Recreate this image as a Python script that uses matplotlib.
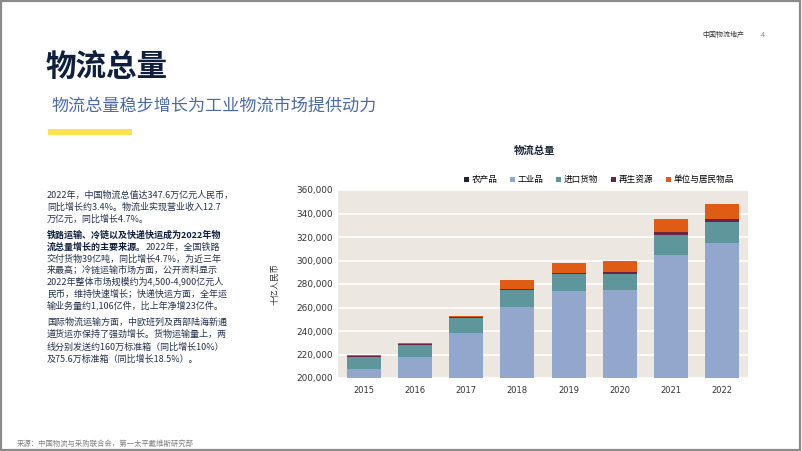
import matplotlib.pyplot as plt
from matplotlib.patches import Rectangle

plt.rcParams["font.family"] = ["Noto Sans CJK SC", "DejaVu Sans"]

# ---------------------------------------------------------------------
# Dados (十亿人民币)
# ---------------------------------------------------------------------
anos = ["2015", "2016", "2017", "2018", "2019", "2020", "2021", "2022"]
agricola = [3500, 3600, 3700, 3900, 4200, 4600, 5000, 5300]
industrial = [204000, 214000, 234500, 256800, 269600, 269900, 299600, 309200]
importacao = [10400, 10500, 12500, 14100, 14300, 14200, 17400, 18100]
reciclagem = [900, 1000, 1100, 1300, 1400, 1600, 2500, 3100]
residentes = [500, 600, 1000, 7000, 8400, 9700, 10800, 12000]

series = [
    ("农产品", agricola, "#1f2433"),
    ("工业品", industrial, "#92a7cb"),
    ("进口货物", importacao, "#5f969b"),
    ("再生资源", reciclagem, "#6a2445"),
    ("单位与居民物品", residentes, "#e05c14"),
]

y_ticks = [200000, 220000, 240000, 260000, 280000, 300000, 320000, 340000, 360000]

W, H = 802, 451


def fy(px):
    return 1 - px / H


def fx(px):
    return px / W


fig = plt.figure(figsize=(W / 100, H / 100), dpi=100)
fig.patch.set_facecolor("white")

# moldura cinzenta
fig.add_artist(Rectangle((0.001, 0.002), 0.997, 0.996, transform=fig.transFigure,
                         fill=False, edgecolor="#8a8a8a", linewidth=1.6))

# cabeçalho
fig.text(fx(702), fy(35), "中国物流地产", fontsize=5, color="#333333", va="center")
fig.text(fx(761), fy(35), "4", fontsize=5, color="#888888", va="center")
fig.text(fx(46), fy(67), "物流总量", fontsize=22, fontweight="bold",
         color="#0f1f3d", va="center")
fig.text(fx(51), fy(106), "物流总量稳步增长为工业物流市场提供动力", fontsize=12.3,
         color="#4d6aa3", va="center")
fig.add_artist(Rectangle((fx(48), fy(135)), fx(84), 6 / H, transform=fig.transFigure,
                         facecolor="#ffe04f", edgecolor="none"))

# texto lateral
cor_texto = "#26324a"
fs = 6.5
x0 = fx(47)
p1 = [
    "2022年，中国物流总值达347.6万亿元人民币，",
    "同比增长约3.4%。物流业实现营业收入12.7",
    "万亿元，同比增长4.7%。",
]
for i, linha in enumerate(p1):
    fig.text(x0, fy(198 + i * 11.7), linha, fontsize=fs, color=cor_texto, va="baseline")

fig.text(x0, fy(238), "铁路运输、冷链以及快递快运成为2022年物", fontsize=fs,
         fontweight="bold", color="#0f1f3d", va="baseline")
t_bold = fig.text(x0, fy(249.7), "流总量增长的主要来源。", fontsize=fs,
                  fontweight="bold", color="#0f1f3d", va="baseline")
p2 = [
    "交付货物39亿吨，同比增长4.7%，为近三年",
    "来最高；冷链运输市场方面，公开资料显示",
    "2022年整体市场规模约为4,500-4,900亿元人",
    "民币，维持快速增长；快递快运方面，全年运",
    "输业务量约1,106亿件，比上年净增23亿件。",
]
for i, linha in enumerate(p2):
    fig.text(x0, fy(261.4 + i * 11.7), linha, fontsize=fs, color=cor_texto, va="baseline")

p3 = [
    "国际物流运输方面，中欧班列及西部陆海新通",
    "道货运亦保持了强劲增长。货物运输量上，两",
    "线分别发送约160万标准箱（同比增长10%）",
    "及75.6万标准箱（同比增长18.5%）。",
]
for i, linha in enumerate(p3):
    fig.text(x0, fy(325 + i * 12.2), linha, fontsize=fs, color=cor_texto, va="baseline")

fig.text(fx(17), fy(444), "来源：中国物流与采购联合会，第一太平戴维斯研究部", fontsize=5.3,
         color="#808080", va="center")

# ---------------------------------------------------------------------
# Gráfico de barras empilhadas
# ---------------------------------------------------------------------
ax = fig.add_axes([fx(338), fy(378), fx(748 - 338), (378 - 190) / H])
ax.set_facecolor("#ece7e1")

x = list(range(len(anos)))
base = [0] * len(anos)
for nome, valores, cor in series:
    ax.bar(x, valores, bottom=base, width=0.66, color=cor, label=nome, zorder=3)
    base = [b + v for b, v in zip(base, valores)]

ax.set_ylim(200000, 360000)
ax.set_xlim(-0.5, 7.5)
ax.set_yticks(y_ticks)
ax.set_yticklabels([f"{v:,}" for v in y_ticks], fontfamily="DejaVu Sans", fontsize=6.4)
ax.set_xticks(x)
ax.set_xticklabels(anos, fontfamily="DejaVu Sans", fontsize=6)
ax.tick_params(length=0, colors="#333333", pad=4)
ax.tick_params(axis="x", pad=6)
ax.grid(axis="y", color="white", linewidth=1.2, zorder=1)
for lado in ax.spines.values():
    lado.set_visible(False)

ax.set_ylabel("十亿人民币", fontsize=6, color="#333333", labelpad=12)

fig.text(fx(535), fy(151), "物流总量", fontsize=7.5, fontweight="bold",
         color="#1a2233", ha="center", va="center")

ax.legend(loc="lower right", bbox_to_anchor=(0.965, 1.03), ncol=5, frameon=False,
          fontsize=6.2, handlelength=0.55, handleheight=0.55, handletextpad=0.3,
          columnspacing=1.5, borderaxespad=0, borderpad=0)

# segunda parte da linha com mistura de pesos
fig.canvas.draw()
bb = t_bold.get_window_extent()
fig.text(bb.x1 / W, fy(249.7), "2022年，全国铁路", fontsize=fs, color=cor_texto,
         va="baseline")

fig.savefig("out.png", dpi=100)
